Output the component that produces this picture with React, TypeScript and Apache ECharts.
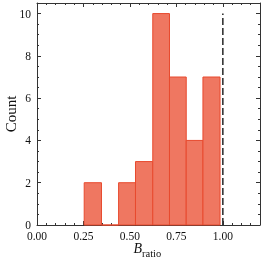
import React, { useEffect, useRef } from "react";
import * as echarts from "echarts";

const binEdges = [0.254, 0.347, 0.439, 0.530, 0.623, 0.713, 0.803, 0.893, 0.985];
const counts = [2, 0, 2, 3, 10, 7, 4, 7];
const xTickLabels = ["0.00", "0.25", "0.50", "0.75", "1.00"];
const yTickLabels = ["0", "2", "4", "6", "8", "10"];
const refLineX = 1.0;
const refLineTop = 10;

const FONT = "'Liberation Serif', 'DejaVu Serif', serif";
const AXIS_COLOR = "#333";

export default function App() {
  const ref = useRef<HTMLDivElement>(null);
  useEffect(() => {
    if (!ref.current) return;
    const chart = echarts.init(ref.current, null, { renderer: "svg" });
    const histData = counts.map((c, i) => [binEdges[i], binEdges[i + 1], c]);

    const xCommon = (pos: string, major: boolean, labels: boolean, line: boolean) => ({
      type: "value",
      position: pos,
      min: 0,
      max: 1.2,
      interval: major ? 0.25 : 0.05,
      axisLine: { show: line, onZero: false, lineStyle: { color: AXIS_COLOR, width: 1 } },
      axisTick: { show: true, inside: true, length: major ? 4 : 2, lineStyle: { color: AXIS_COLOR, width: 1 } },
      axisLabel: labels
        ? {
            show: true,
            showMaxLabel: false,
            margin: 5,
            fontFamily: FONT,
            fontSize: 11.5,
            color: "#111",
            formatter: (v: number) => {
              const idx = Math.round(v / 0.25);
              return xTickLabels[idx] ?? "";
            },
          }
        : { show: false },
      splitLine: { show: false },
    });
    const yCommon = (pos: string, major: boolean, labels: boolean, line: boolean) => ({
      type: "value",
      position: pos,
      min: 0,
      max: 10.5,
      interval: major ? 2 : 0.5,
      axisLine: { show: line, onZero: false, lineStyle: { color: AXIS_COLOR, width: 1 } },
      axisTick: { show: true, inside: true, length: major ? 4 : 2, lineStyle: { color: AXIS_COLOR, width: 1 } },
      axisLabel: labels
        ? {
            show: true,
            showMaxLabel: false,
            margin: 6,
            fontFamily: FONT,
            fontSize: 11.5,
            color: "#111",
            formatter: (v: number) => {
              const idx = Math.round(v / 2);
              return yTickLabels[idx] ?? "";
            },
          }
        : { show: false },
      splitLine: { show: false },
    });

    chart.setOption({
      animation: false,
      grid: { left: 37, right: 4, top: 3, bottom: 36, containLabel: false },
      xAxis: [
        xCommon("bottom", true, true, true),
        xCommon("bottom", false, false, false),
        xCommon("top", true, false, true),
        xCommon("top", false, false, false),
      ],
      yAxis: [
        yCommon("left", true, true, true),
        yCommon("left", false, false, false),
        yCommon("right", true, false, true),
        yCommon("right", false, false, false),
      ],
      series: [
        {
          type: "custom",
          xAxisIndex: 0,
          yAxisIndex: 0,
          data: histData,
          encode: { x: [0, 1], y: 2 },
          renderItem: (params: any, api: any) => {
            const x0 = api.value(0);
            const x1 = api.value(1);
            const c = api.value(2);
            const p0 = api.coord([x0, 0]);
            const p1 = api.coord([x1, c]);
            return {
              type: "rect",
              shape: { x: p0[0], y: p1[1], width: p1[0] - p0[0], height: p0[1] - p1[1] },
              style: { fill: "#ef7761", stroke: "#e84a2e", lineWidth: 1 },
            };
          },
        },
        {
          type: "line",
          xAxisIndex: 0,
          yAxisIndex: 0,
          data: [
            [refLineX, 0],
            [refLineX, refLineTop],
          ],
          symbol: "none",
          lineStyle: { color: "#333", width: 1.6, type: [7, 3] },
          z: 5,
        },
      ],
      graphic: [
        {
          type: "text",
          x: 11,
          y: 114,
          rotation: Math.PI / 2,
          style: {
            text: "Count",
            fontFamily: FONT,
            fontSize: 15,
            fill: "#111",
            align: "center",
            verticalAlign: "middle",
          },
        },
        {
          type: "text",
          x: 142,
          y: 255,
          style: {
            text: "B",
            fontFamily: FONT,
            fontStyle: "italic",
            fontSize: 14,
            fill: "#111",
            align: "right",
            verticalAlign: "bottom",
          },
        },
        {
          type: "text",
          x: 142,
          y: 259,
          style: {
            text: "ratio",
            fontFamily: FONT,
            fontSize: 10.5,
            fill: "#111",
            align: "left",
            verticalAlign: "bottom",
          },
        },
      ],
    });
    return () => chart.dispose();
  }, []);
  return (
    <div
      ref={ref}
      style={{ position: "fixed", left: 0, top: 0, width: 264, height: 261 }}
    />
  );
}
